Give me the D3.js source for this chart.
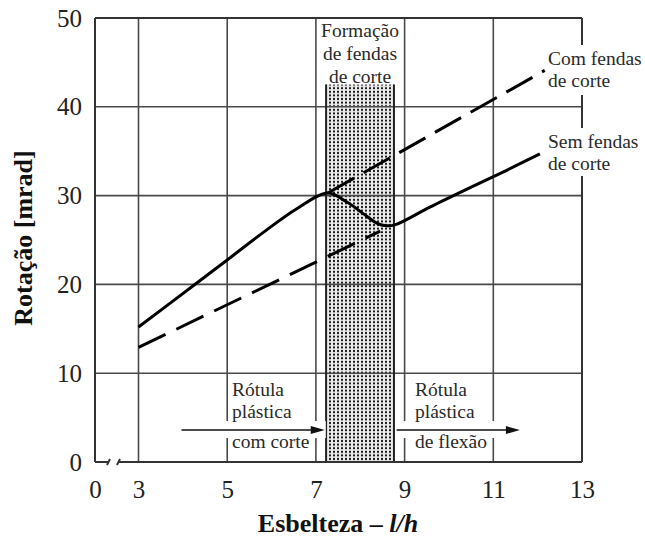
<!DOCTYPE html>
<html>
<head>
<meta charset="utf-8">
<script src="https://cdn.jsdelivr.net/npm/d3@7"></script>
<style>
  html, body { margin: 0; padding: 0; background: #fff; }
  svg { display: block; }
</style>
</head>
<body>
<svg id="chart" width="645" height="540"></svg>
<script>
// Axis ticks
const xTicks = [0, 3, 5, 7, 9, 11, 13];
const yTicks = [0, 10, 20, 30, 40, 50];

// "Sem fendas de corte" (solid curve): slenderness l/h vs rotation [mrad]
const semX = [3, 4.3, 5, 5.8, 6.56, 7.27, 7.69, 8.06, 8.37, 8.59, 8.78, 9.57, 10.5, 11.3, 12.05];
const semY = [15.2, 20.1, 22.75, 25.8, 28.5, 30.3, 29.3, 28.0, 26.9, 26.6, 26.7, 28.7, 30.95, 32.85, 34.7];

// "Com fendas de corte" (dashed): lower branch and upper branch
const comLowX = [3, 8.45];
const comLowY = [12.9, 26.0];
const comUpX = [7.27, 12.16];
const comUpY = [30.3, 44.1];

// Shear-crack formation band (l/h range and top in mrad)
const shearBand = [7.23, 8.76];
const shearTop = 42.5;

// Regime arrows (l/h start, l/h end) and their rotation level
const arrowsLh = [[3.97, 7.2], [8.82, 11.6]];
const arrowLevel = 3.6;

const W = 645, H = 540;
const svg = d3.select("#chart");
const serif = "'Liberation Serif', 'Times New Roman', serif";

// broken x axis: 0 sits just left of 3
const x = d3.scaleLinear().domain([0, 3, 13]).range([95, 138.5, 582]);
const y = d3.scaleLinear().domain([0, 50]).range([462, 18]);

svg.append("rect").attr("width", W).attr("height", H).attr("fill", "#fff");

// stipple pattern
const defs = svg.append("defs");
const pat = defs.append("pattern").attr("id", "dots")
  .attr("width", 4).attr("height", 3.6).attr("patternUnits", "userSpaceOnUse");
pat.append("rect").attr("width", 4).attr("height", 3.6).attr("fill", "#ececec");
pat.append("rect").attr("x", 1).attr("y", 0.8).attr("width", 2).attr("height", 2).attr("fill", "#1a1a1a");

// shaded band
svg.append("rect")
  .attr("x", x(shearBand[0])).attr("y", y(shearTop))
  .attr("width", x(shearBand[1]) - x(shearBand[0]))
  .attr("height", y(0) - y(shearTop))
  .attr("fill", "url(#dots)");

// grid
const grid = svg.append("g").attr("stroke", "#4a4a4a").attr("stroke-width", 1.6);
grid.selectAll("line.v").data(xTicks.filter(d => d > 0 && d < 13)).join("line")
  .attr("x1", d => x(d)).attr("x2", d => x(d)).attr("y1", y(50)).attr("y2", y(0));
grid.selectAll("line.h").data(yTicks.filter(d => d > 0 && d < 50)).join("line")
  .attr("x1", x(0)).attr("x2", x(13)).attr("y1", d => y(d)).attr("y2", d => y(d));

// band edges
svg.append("g").attr("stroke", "#222").attr("stroke-width", 2)
  .selectAll("line").data(shearBand).join("line")
  .attr("x1", d => x(d)).attr("x2", d => x(d)).attr("y1", y(shearTop)).attr("y2", y(0));

// frame with axis break near the origin
const frame = svg.append("g").attr("stroke", "#333").attr("stroke-width", 2).attr("fill", "none");
frame.append("line").attr("x1", x(0)).attr("x2", x(0)).attr("y1", y(50)).attr("y2", y(0));
frame.append("line").attr("x1", x(0)).attr("x2", x(13)).attr("y1", y(50)).attr("y2", y(50));
frame.append("line").attr("x1", x(13)).attr("x2", x(13)).attr("y1", y(50)).attr("y2", y(0));
frame.append("line").attr("x1", x(0)).attr("x2", x(0) + 14).attr("y1", y(0)).attr("y2", y(0));
frame.append("line").attr("x1", x(0) + 24).attr("x2", x(13)).attr("y1", y(0)).attr("y2", y(0));
frame.append("path").attr("d", `M${x(0) + 12},${y(0) + 3} L${x(0) + 15},${y(0) - 3}`);
frame.append("path").attr("d", `M${x(0) + 22},${y(0) + 3} L${x(0) + 25},${y(0) - 3}`);

// curves
const zipXY = (xs, ys) => xs.map((v, i) => [v, ys[i]]);
const straight = d3.line().x(d => x(d[0])).y(d => y(d[1]));
const smooth = d3.line().x(d => x(d[0])).y(d => y(d[1])).curve(d3.curveCatmullRom.alpha(0.5));

svg.append("path").datum(zipXY(comLowX, comLowY))
  .attr("d", straight)
  .attr("fill", "none").attr("stroke", "#000").attr("stroke-width", 3)
  .attr("stroke-dasharray", "30,12");
svg.append("path").datum(zipXY(comUpX, comUpY))
  .attr("d", straight)
  .attr("fill", "none").attr("stroke", "#000").attr("stroke-width", 3)
  .attr("stroke-dasharray", "30,11");
svg.append("path").datum(zipXY(semX, semY))
  .attr("d", smooth)
  .attr("fill", "none").attr("stroke", "#000").attr("stroke-width", 3)
  .attr("stroke-linejoin", "round");

// regime arrows
const ay = y(arrowLevel);
arrowsLh.forEach(([a, b]) => {
  svg.append("rect").attr("x", x(a) - 1).attr("y", ay - 9)
    .attr("width", x(b) - x(a) + 2).attr("height", 17).attr("fill", "#fff");
  svg.append("line").attr("x1", x(a)).attr("x2", x(b) - 10).attr("y1", ay).attr("y2", ay)
    .attr("stroke", "#111").attr("stroke-width", 1.6);
  svg.append("path").attr("d", `M${x(b)},${ay} L${x(b) - 14},${ay - 4} L${x(b) - 14},${ay + 4} Z`)
    .attr("fill", "#111");
});

// axes (labels only)
const xAxis = svg.append("g").attr("transform", `translate(0,${y(0)})`)
  .call(d3.axisBottom(x).tickValues(xTicks).tickSize(0).tickPadding(18).tickFormat(d3.format("d")));
xAxis.select(".domain").remove();
xAxis.selectAll("text").attr("font-family", serif).attr("font-size", 25).attr("fill", "#222");

const yAxis = svg.append("g").attr("transform", `translate(${x(0)},0)`)
  .call(d3.axisLeft(y).tickValues(yTicks).tickSize(0).tickPadding(13).tickFormat(d3.format("d")));
yAxis.select(".domain").remove();
yAxis.selectAll("text").attr("font-family", serif).attr("font-size", 25).attr("fill", "#222");

// axis titles
const xt = svg.append("text").attr("x", 338).attr("y", 532).attr("text-anchor", "middle")
  .attr("font-family", serif).attr("font-size", 26).attr("font-weight", "bold").attr("fill", "#111");
xt.append("tspan").text("Esbelteza – ");
xt.append("tspan").attr("font-style", "italic").text("l/h");

svg.append("text").attr("transform", "translate(32,238) rotate(-90)")
  .attr("text-anchor", "middle")
  .attr("font-family", serif).attr("font-size", 26).attr("font-weight", "bold").attr("fill", "#111")
  .text("Rotação [mrad]");

// annotations
function block(lines, px, baselines, anchor) {
  const t = svg.append("text").attr("font-family", serif).attr("font-size", 19.5)
    .attr("fill", "#2a2a2a").attr("text-anchor", anchor);
  lines.forEach((s, i) => t.append("tspan").attr("x", px).attr("y", baselines[i]).text(s));
  return t;
}

block(["Formação", "de fendas", "de corte"], (x(shearBand[0]) + x(shearBand[1])) / 2, [37, 60, 83], "middle");
block(["Rótula", "plástica"], 232, [396, 418], "start");
block(["com corte"], 232, [448], "start");
block(["Rótula", "plástica"], 415, [396, 418], "start");
block(["de flexão"], 415, [448], "start");

svg.append("rect").attr("x", 546).attr("y", 45).attr("width", 99).attr("height", 50).attr("fill", "#fff");
svg.append("rect").attr("x", 546).attr("y", 128).attr("width", 99).attr("height", 48).attr("fill", "#fff");
block(["Com fendas", "de corte"], 548, [65, 87], "start");
block(["Sem fendas", "de corte"], 548, [148, 170], "start");
</script>
</body>
</html>
